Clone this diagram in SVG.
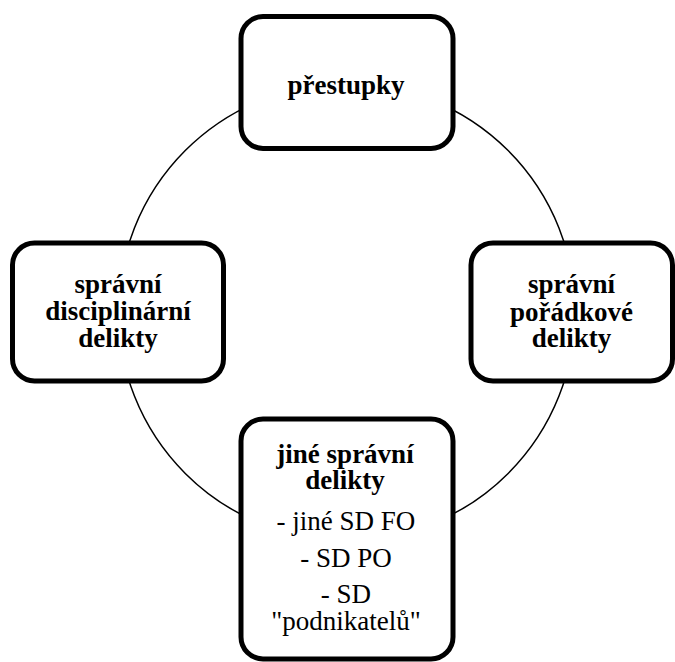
<svg xmlns="http://www.w3.org/2000/svg" width="675" height="662" viewBox="0 0 675 662">
<style>
.box{fill:#fff;stroke:#000;stroke-width:5}
.conn{fill:none;stroke:#000;stroke-width:1.5}
.b{font-weight:bold}
</style>
<rect width="675" height="662" fill="#fff"/>
<g id="connectors">
<circle class="conn" cx="346.7" cy="312" r="228.3"/>
</g>
<g font-family="Liberation Serif, DejaVu Serif, serif" font-size="27" text-anchor="middle" fill="#000">
<g id="prestupky">
<rect class="box" x="241" y="16.5" width="212" height="132" rx="22"/>
<text class="b" x="346" y="94">přestupky</text>
</g>
<g id="disciplinarni">
<rect class="box" x="12.5" y="243" width="211" height="138" rx="22"/>
<text class="b" x="118" y="293">správní</text>
<text class="b" x="118" y="320">disciplinární</text>
<text class="b" x="118" y="347">delikty</text>
</g>
<g id="poradkove">
<rect class="box" x="471" y="243" width="201.5" height="138" rx="22"/>
<text class="b" x="571.5" y="293">správní</text>
<text class="b" x="571.5" y="320.5">pořádkové</text>
<text class="b" x="571.5" y="347">delikty</text>
</g>
<g id="jine">
<rect class="box" x="241" y="419" width="212" height="240" rx="22"/>
<text class="b" x="345" y="463">jiné správní</text>
<text class="b" x="345" y="489">delikty</text>
<text x="346" y="530">- jiné SD FO</text>
<text x="346" y="567">- SD PO</text>
<text x="346" y="603">- SD</text>
<text x="346" y="630">"podnikatelů"</text>
</g>
</g>
</svg>
